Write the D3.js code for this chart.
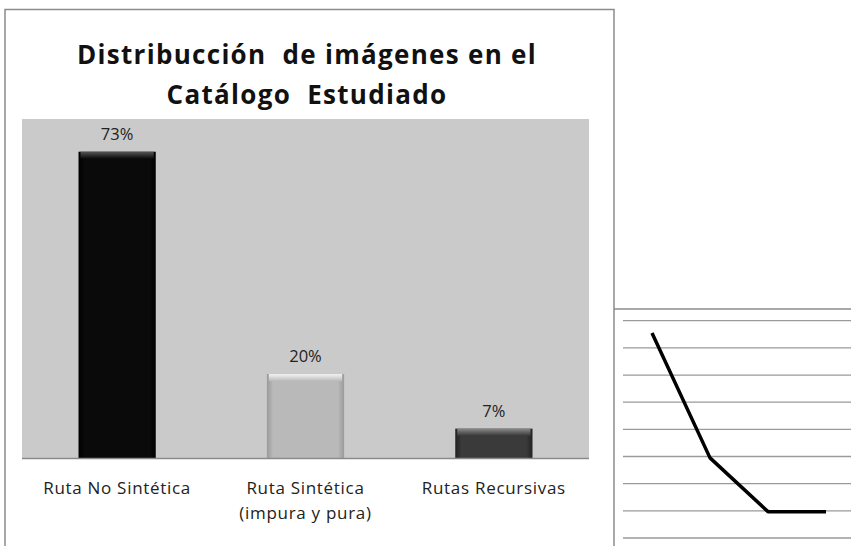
<!DOCTYPE html>
<html>
<head>
<meta charset="utf-8">
<script src="https://cdn.jsdelivr.net/npm/d3@7"></script>
<style>
  body { margin: 0; background: #fff; }
  text { font-family: "Open Sans", Lato, sans-serif; }
</style>
</head>
<body>
<div id="chart"></div>
<script>
// bar chart data
const categories = ["Ruta No Sintética", "Ruta Sintética\n(impura y pura)", "Rutas Recursivas"];
const percentages = [73, 20, 7];
const titleLines = ["Distribucción  de imágenes en el", "Catálogo  Estudiado"];

// partial line chart on the right (cropped in the original)
const lineSteps = ["a", "b", "c", "d"];
const lineValues = [75.5, 29.5, 9.7, 9.7];
const gridTicks = [0, 10, 20, 30, 40, 50, 60, 70, 80];

const W = 851, H = 546;

const svg = d3.select("#chart").append("svg")
    .attr("width", W)
    .attr("height", H);

const defs = svg.append("defs");

// bevel-ish gradients for the bars
const barStyles = [
    { id: "g0", edge: "#000", mid: "#0a0a0a", top: "#555" },
    { id: "g1", edge: "#9a9a9a", mid: "#b9b9b9", top: "#f4f4f4" },
    { id: "g2", edge: "#222", mid: "#3a3a3a", top: "#8a8a8a" }
];
barStyles.forEach(s => {
    const g = defs.append("linearGradient").attr("id", s.id)
        .attr("x1", "0").attr("x2", "1").attr("y1", "0").attr("y2", "0");
    g.append("stop").attr("offset", "0").attr("stop-color", s.edge);
    g.append("stop").attr("offset", "0.08").attr("stop-color", s.mid);
    g.append("stop").attr("offset", "0.92").attr("stop-color", s.mid);
    g.append("stop").attr("offset", "1").attr("stop-color", s.edge);
    const t = defs.append("linearGradient").attr("id", s.id + "t")
        .attr("x1", "0").attr("x2", "0").attr("y1", "0").attr("y2", "1");
    t.append("stop").attr("offset", "0").attr("stop-color", s.top);
    t.append("stop").attr("offset", "1").attr("stop-color", s.mid);
});

// outer frame of the bar chart
svg.append("rect")
    .attr("x", 5).attr("y", 9.5)
    .attr("width", 609).attr("height", 560)
    .attr("fill", "#fff")
    .attr("stroke", "#8c8c8c")
    .attr("stroke-width", 1.5);

// title
svg.append("text")
    .attr("x", 307)
    .attr("text-anchor", "middle")
    .style("font-size", "26px")
    .style("font-weight", "bold")
    .style("letter-spacing", "1.3px")
    .style("fill", "#111")
    .selectAll("tspan")
    .data(titleLines)
    .enter().append("tspan")
    .attr("x", 307)
    .attr("y", (d, i) => 64 + i * 40)
    .attr("xml:space", "preserve")
    .text(d => d);

const plot = { left: 22, right: 589, top: 119, bottom: 458 };

const x = d3.scaleBand()
    .domain(categories)
    .range([plot.left, plot.right])
    .paddingInner(0.59)
    .paddingOuter(0.3);

const y = d3.scaleLinear()
    .domain([0, 80.8])
    .range([plot.bottom, plot.top]);

svg.append("rect")
    .attr("x", plot.left).attr("y", plot.top)
    .attr("width", plot.right - plot.left)
    .attr("height", plot.bottom - plot.top)
    .attr("fill", "#cacaca");

const bars = svg.selectAll(".bar")
    .data(categories)
    .enter().append("g")
    .attr("class", "bar");

bars.append("rect")
    .attr("x", d => x(d))
    .attr("y", (d, i) => y(percentages[i]))
    .attr("width", x.bandwidth())
    .attr("height", (d, i) => y(0) - y(percentages[i]))
    .attr("fill", (d, i) => "url(#" + barStyles[i].id + ")");

bars.append("rect")
    .attr("x", d => x(d) + 2)
    .attr("y", (d, i) => y(percentages[i]))
    .attr("width", x.bandwidth() - 4)
    .attr("height", 7)
    .attr("fill", (d, i) => "url(#" + barStyles[i].id + "t)");

bars.append("text")
    .attr("x", d => x(d) + x.bandwidth() / 2)
    .attr("y", (d, i) => y(percentages[i]) - 12)
    .attr("text-anchor", "middle")
    .style("font-size", "16.5px")
    .style("fill", "#222")
    .text((d, i) => percentages[i] + "%");

// x axis baseline
svg.append("line")
    .attr("x1", plot.left).attr("x2", plot.right)
    .attr("y1", plot.bottom + 0.5).attr("y2", plot.bottom + 0.5)
    .attr("stroke", "#8a8a8a")
    .attr("stroke-width", 1.5);

// category labels (multi-line)
svg.selectAll(".cat")
    .data(categories)
    .enter().append("text")
    .attr("class", "cat")
    .attr("text-anchor", "middle")
    .style("font-size", "17px")
    .style("letter-spacing", "0.7px")
    .style("fill", "#222")
    .each(function (d) {
        const t = d3.select(this);
        d.split("\n").forEach((line, i) => {
            t.append("tspan")
                .attr("x", x(d) + x.bandwidth() / 2)
                .attr("y", 494 + i * 25)
                .text(line);
        });
    });

// right side: cropped line chart
const lc = { left: 623, right: 851, top: 320.7, bottom: 538 };

svg.append("line")
    .attr("x1", 614).attr("x2", W)
    .attr("y1", 309).attr("y2", 309)
    .attr("stroke", "#8c8c8c").attr("stroke-width", 1.5);

const ly = d3.scaleLinear()
    .domain([0, 80])
    .range([lc.bottom, lc.top]);

const lx = d3.scalePoint()
    .domain(lineSteps)
    .range([652, 826]);

svg.selectAll(".grid")
    .data(gridTicks)
    .enter().append("line")
    .attr("class", "grid")
    .attr("x1", lc.left).attr("x2", lc.right)
    .attr("y1", d => ly(d)).attr("y2", d => ly(d))
    .attr("stroke", "#9a9a9a")
    .attr("stroke-width", 1.3);

const line = d3.line()
    .x((d, i) => lx(lineSteps[i]))
    .y(d => ly(d));

svg.append("path")
    .datum(lineValues)
    .attr("d", line)
    .attr("fill", "none")
    .attr("stroke", "#000")
    .attr("stroke-width", 3.5)
    .attr("stroke-linejoin", "round");
</script>
</body>
</html>
